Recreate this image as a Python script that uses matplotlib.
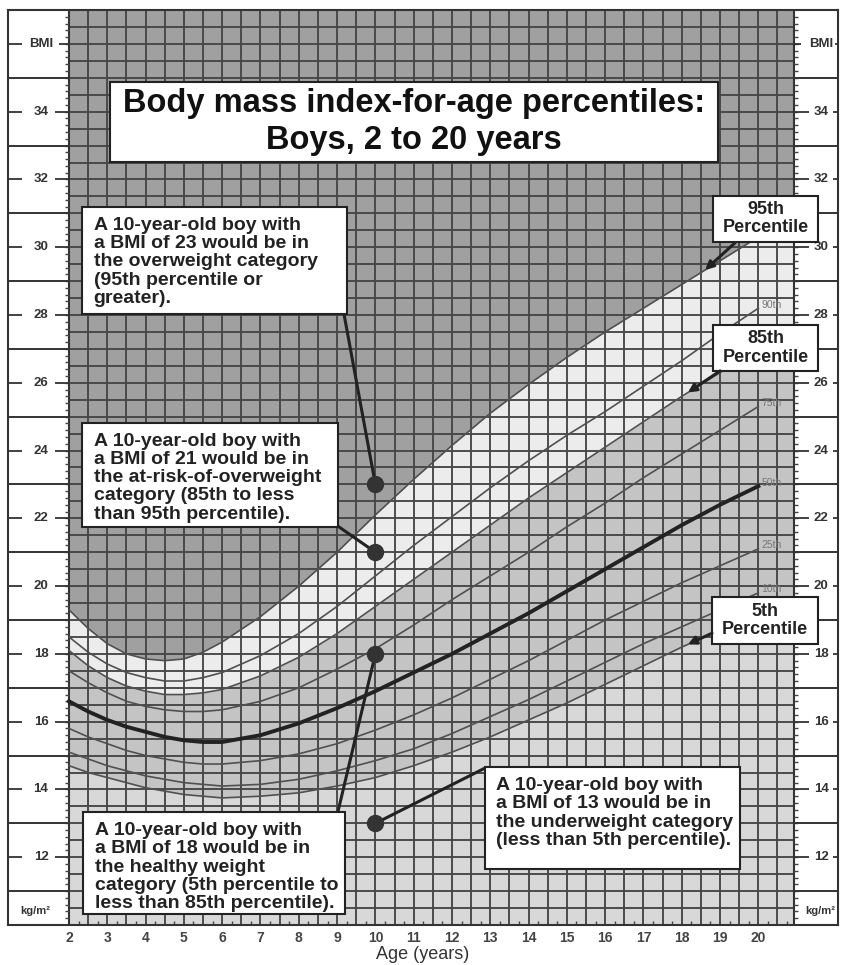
import numpy as np
import matplotlib
matplotlib.use("Agg")
import matplotlib.pyplot as plt
from matplotlib.patches import Rectangle

plt.rcParams['font.family'] = ['Liberation Sans', 'DejaVu Sans']

# ---------------------------------------------------
# DATA (BMI-for-age percentiles, boys)
# ---------------------------------------------------
ages = [2, 2.5, 3, 3.5, 4, 4.5, 5, 5.5, 6, 7, 8, 9, 10, 11, 12, 13, 14, 15, 16, 17, 18, 19, 20]

p5 = [14.7, 14.5, 14.35, 14.2, 14.05, 13.95, 13.85, 13.8, 13.75, 13.8, 13.9, 14.1, 14.35,
      14.7, 15.1, 15.55, 16.05, 16.55, 17.1, 17.65, 18.2, 18.7, 19.2]
p10 = [15.1, 14.9, 14.7, 14.55, 14.4, 14.3, 14.2, 14.15, 14.1, 14.15, 14.3, 14.55, 14.85,
       15.2, 15.65, 16.15, 16.65, 17.2, 17.75, 18.3, 18.8, 19.3, 19.8]
p25 = [15.8, 15.55, 15.35, 15.15, 15.0, 14.9, 14.8, 14.75, 14.75, 14.85, 15.05, 15.35, 15.75,
       16.2, 16.7, 17.25, 17.8, 18.4, 19.0, 19.55, 20.1, 20.6, 21.1]
p50 = [16.6, 16.3, 16.05, 15.85, 15.7, 15.55, 15.45, 15.4, 15.4, 15.6, 15.95, 16.4, 16.9,
       17.45, 18.0, 18.6, 19.2, 19.85, 20.5, 21.15, 21.8, 22.4, 22.95]
p75 = [17.5, 17.15, 16.85, 16.6, 16.45, 16.35, 16.3, 16.3, 16.35, 16.6, 17.0, 17.55, 18.15,
       18.85, 19.6, 20.3, 21.0, 21.75, 22.45, 23.2, 23.9, 24.6, 25.3]
p85 = [18.1, 17.65, 17.3, 17.05, 16.9, 16.8, 16.8, 16.85, 16.95, 17.35, 17.9, 18.6, 19.4,
       20.2, 21.0, 21.8, 22.6, 23.35, 24.1, 24.85, 25.6, 26.3, 27.0]
p90 = [18.5, 18.05, 17.7, 17.45, 17.3, 17.2, 17.2, 17.3, 17.45, 17.95, 18.6, 19.4, 20.3,
       21.2, 22.05, 22.9, 23.7, 24.45, 25.15, 25.9, 26.65, 27.45, 28.2]
p95 = [19.3, 18.75, 18.3, 18.0, 17.85, 17.8, 17.85, 18.05, 18.35, 19.1, 20.0, 21.0, 22.1,
       23.15, 24.15, 25.1, 25.95, 26.75, 27.5, 28.2, 28.9, 29.6, 30.3]

age_ticks = list(range(2, 21))
bmi_ticks = list(range(12, 35, 2))

example_age = 10
example_bmi = [23, 21, 18, 13]

example_text = [
    "A 10-year-old boy with\na BMI of 23 would be in\nthe overweight category\n(95th percentile or\ngreater).",
    "A 10-year-old boy with\na BMI of 21 would be in\nthe at-risk-of-overweight\ncategory (85th to less\nthan 95th percentile).",
    "A 10-year-old boy with\na BMI of 18 would be in\nthe healthy weight\ncategory (5th percentile to\nless than 85th percentile).",
    "A 10-year-old boy with\na BMI of 13 would be in\nthe underweight category\n(less than 5th percentile).",
]

# ---------------------------------------------------
# STYLE
# ---------------------------------------------------
DARK = '#a0a0a0'
LIGHT = '#ececec'
MID = '#c4c4c4'
LOW = '#d8d8d8'
GRID = '#464646'
INK = '#222222'

X0, X1 = 0.407, 22.08      # outer frame
GX0, GX1 = 2.0, 20.93      # grid area
Y0, Y1 = 10.0, 37.0

fig = plt.figure(figsize=(8.45, 9.65), dpi=100)
ax = fig.add_axes([8 / 845, 40 / 965, 830 / 845, 915 / 965])
ax.set_xlim(X0, X1)
ax.set_ylim(Y0, Y1)

# ---------------------------------------------------
# SHADED BANDS
# ---------------------------------------------------
xe = np.append(ages, GX1)


def ext(a):
    return np.append(a, a[-1])


ax.fill_between(xe, ext(p95), Y1, color=DARK, lw=0, zorder=0)
ax.fill_between(xe, ext(p85), ext(p95), color=LIGHT, lw=0, zorder=0)
ax.fill_between(xe, ext(p5), ext(p85), color=MID, lw=0, zorder=0)
ax.fill_between(xe, Y0, ext(p5), color=LOW, lw=0, zorder=0)

# ---------------------------------------------------
# GRID
# ---------------------------------------------------
ax.vlines(np.arange(GX0, GX1, 0.5), Y0, Y1, color=GRID, lw=1.35, zorder=1)
ax.hlines(np.arange(Y0, Y1 + 0.01, 0.5), GX0, GX1, color=GRID, lw=1.35, zorder=1)
ax.vlines([GX0, GX1], Y0, Y1, color='#333333', lw=1.5, zorder=1)

# minor ticks along grid edges
yt = np.arange(Y0 + 0.2, Y1, 0.2)
ax.hlines(yt, GX0 - 0.11, GX0, color='#444444', lw=1.0, zorder=1)
ax.hlines(yt, GX1, GX1 + 0.11, color='#444444', lw=1.0, zorder=1)
ax.vlines(np.arange(2.25, GX1, 0.5), Y0, Y0 + 0.12, color='#444444', lw=1.0, zorder=1)

# side panel separators
ax.hlines(np.arange(11, 36, 2), X0, GX0, color='#333333', lw=1.4, zorder=1)
ax.hlines(np.arange(11, 36, 2), GX1, X1, color='#333333', lw=1.4, zorder=1)

# side labels
for v, lab in [(b, str(b)) for b in bmi_ticks] + [(36, 'BMI')]:
    ax.text(1.27, v, lab, ha='center', va='center', fontsize=9.5,
            fontweight='bold', color='#333333')
    ax.text(21.64, v, lab, ha='center', va='center', fontsize=9.5,
            fontweight='bold', color='#333333')
    ax.hlines(v, 0.43, 0.77, color='#333333', lw=1.3)
    ax.hlines(v, 1.63 if lab != 'BMI' else 1.73, GX0, color='#333333', lw=1.3)
    ax.hlines(v, GX1, 21.33 if lab != 'BMI' else 21.12, color='#333333', lw=1.3)
    ax.hlines(v, 21.94 if lab != 'BMI' else 22.0, X1, color='#333333', lw=1.3)

ax.text(1.11, 10.4, 'kg/m²', ha='center', va='center', fontsize=8,
        fontweight='bold', color='#333333')
ax.text(21.62, 10.4, 'kg/m²', ha='center', va='center', fontsize=8,
        fontweight='bold', color='#333333')

# ---------------------------------------------------
# PERCENTILE CURVES
# ---------------------------------------------------
for s in [p5, p10, p25, p75, p85, p90, p95]:
    ax.plot(ages, s, color='#505050', lw=1.2, zorder=2)
ax.plot(ages, p50, color=INK, lw=2.8, zorder=2)

for s, lab in [(p90, '90th'), (p75, '75th'), (p50, '50th'), (p25, '25th'), (p10, '10th')]:
    ax.text(20.08, s[-1] + 0.1, lab, ha='left', va='center', fontsize=7.5,
            color='#777777', zorder=2)

# ---------------------------------------------------
# TITLE BOX
# ---------------------------------------------------
ax.add_patch(Rectangle((3.07, 32.52), 15.88, 2.37, facecolor='white',
                       edgecolor=INK, lw=1.5, zorder=5))
ax.text(11.0, 33.7, 'Body mass index-for-age percentiles:\nBoys, 2 to 20 years',
        ha='center', va='center', fontsize=23.5, fontweight='bold', color='#111111',
        linespacing=1.26, zorder=6)

# ---------------------------------------------------
# EXAMPLE BOXES + DOTS
# ---------------------------------------------------
boxes = [
    # x0, y0, x1, y1, anchor
    (2.34, 28.03, 9.26, 31.19, (9.18, 28.03)),
    (2.34, 21.74, 9.02, 24.82, (9.02, 21.77)),
    (2.37, 10.31, 9.21, 13.33, (9.02, 13.33)),
    (12.86, 11.64, 19.52, 14.66, (12.86, 14.63)),
]

for (bx0, by0, bx1, by1, anc), txt, b in zip(boxes, example_text, example_bmi):
    ax.add_patch(Rectangle((bx0, by0), bx1 - bx0, by1 - by0, facecolor='white',
                           edgecolor=INK, lw=1.5, zorder=5))
    ax.text(bx0 + 0.3, by1 - 0.3, txt, ha='left', va='top', fontsize=14,
            fontweight='bold', color=INK, linespacing=1.09, zorder=6)
    ax.plot([anc[0], example_age], [anc[1], b], color=INK, lw=2.2, zorder=4)

ax.plot([example_age] * len(example_bmi), example_bmi, 'o', ms=11.5,
        color='#333333', zorder=7)

# ---------------------------------------------------
# PERCENTILE CALLOUTS
# ---------------------------------------------------
callouts = [
    ('95th\nPercentile', p95, 18.61, (18.81, 30.16, 21.56, 31.52), (19.39, 30.13)),
    ('85th\nPercentile', p85, 18.16, (18.81, 26.35, 21.56, 27.71), (19.0, 26.35)),
    ('5th\nPercentile', p5, 18.16, (18.79, 18.29, 21.56, 19.68), (18.79, 18.61)),
]
for lab, s, tip_age, (bx0, by0, bx1, by1), start in callouts:
    ax.add_patch(Rectangle((bx0, by0), bx1 - bx0, by1 - by0, facecolor='white',
                           edgecolor=INK, lw=1.5, zorder=5, clip_on=False))
    ax.text((bx0 + bx1) / 2, (by0 + by1) / 2, lab, ha='center', va='center',
            fontsize=13, fontweight='bold', color=INK, linespacing=1.1, zorder=6)
    tip = (tip_age, np.interp(tip_age, ages, s))
    ax.annotate('', xy=tip, xytext=start, zorder=6,
                arrowprops=dict(arrowstyle='-|>', color=INK, lw=2.2,
                                mutation_scale=12, shrinkA=0, shrinkB=0))

# ---------------------------------------------------
# AXES
# ---------------------------------------------------
ax.set_xticks(age_ticks)
ax.set_xticklabels([str(a) for a in age_ticks], fontweight='bold')
ax.set_yticks([])
ax.tick_params(axis='x', length=0, pad=4, labelsize=10, labelcolor='#444444')
ax.set_xlabel('Age (years)', fontsize=13, color='#333333', labelpad=1)
for sp in ax.spines.values():
    sp.set_color('#333333')
    sp.set_linewidth(1.5)

fig.savefig('out.png', dpi=100, facecolor='white')
